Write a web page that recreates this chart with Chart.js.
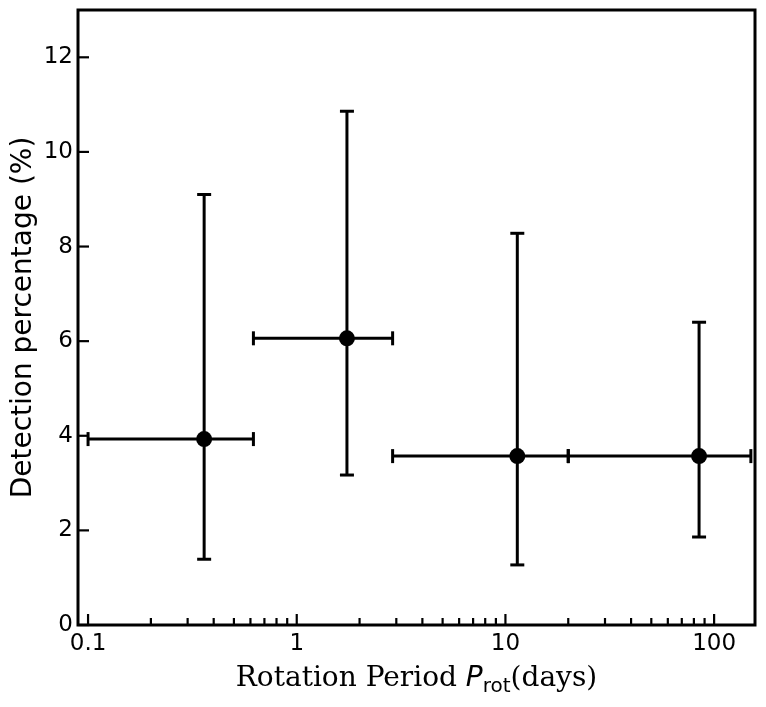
<!DOCTYPE html>
<html>
<head>
<meta charset="utf-8">
<script src="https://cdn.jsdelivr.net/npm/chart.js@4/dist/chart.umd.min.js"></script>
<style>
  html, body { margin: 0; padding: 0; background: #fff; }
  #wrap { width: 766px; height: 707px; }
</style>
</head>
<body>
<div id="wrap"><canvas id="detection_chart"></canvas></div>
<script>
// rotation period bins (days) and detection percentage
const periods    = [0.36, 1.74, 11.4, 84.7];
const binLow     = [0.1, 0.62, 2.88, 20];
const binHigh    = [0.62, 2.88, 20, 150];
const percent    = [3.93, 6.06, 3.57, 3.57];
const percentLow = [1.39, 3.17, 1.27, 1.86];
const percentHigh= [9.10, 10.86, 8.28, 6.40];

const xMajorTicks = [0.1, 1, 10, 100];
const xMinorSteps = [2, 3, 4, 5, 6, 7, 8, 9];
const yTicks = [0, 2, 4, 6, 8, 10, 12];

const xMin = 0.0895, xMax = 157;
const yMin = 0, yMax = 13;

Chart.defaults.font.family = "'DejaVu Sans', sans-serif";
Chart.defaults.font.size = 22;
Chart.defaults.color = '#000';

const LW = 3;

/* error bars as small line datasets, caps via the 'line' point style */
let datasets = [];
for (let i = 0; i < periods.length; i++) {
    datasets.push({
        data: [{x: periods[i], y: percentLow[i]}, {x: periods[i], y: percentHigh[i]}],
        showLine: true,
        borderColor: '#000',
        borderWidth: LW,
        pointStyle: 'line',
        pointRadius: 7,
        pointBorderWidth: LW,
        pointBorderColor: '#000',
        pointRotation: 0
    });
    datasets.push({
        data: [{x: binLow[i], y: percent[i]}, {x: binHigh[i], y: percent[i]}],
        showLine: true,
        borderColor: '#000',
        borderWidth: LW,
        pointStyle: 'line',
        pointRadius: 7,
        pointBorderWidth: LW,
        pointBorderColor: '#000',
        pointRotation: 90
    });
}
datasets.push({
    data: periods.map((p, i) => ({x: p, y: percent[i]})),
    showLine: false,
    pointStyle: 'circle',
    pointRadius: 8,
    pointBackgroundColor: '#000',
    pointBorderColor: '#000',
    pointBorderWidth: 0
});

function isMajorX(v)
{
    return xMajorTicks.some(t => Math.abs(t - v) < t * 1e-6);
}

/* frame, inward ticks and axis titles */
const framePlugin = {
    id: 'frame',
    afterDraw(chart) {
        const ctx = chart.ctx;
        const area = chart.chartArea;
        const xs = chart.scales.x;
        const ys = chart.scales.y;
        ctx.save();
        ctx.strokeStyle = '#000';

        ctx.lineWidth = 2.2;
        xs.ticks.forEach(t => {
            if (t.value < xMin || t.value > xMax) return;
            const px = xs.getPixelForValue(t.value);
            const len = isMajorX(t.value) ? 11 : 7;
            ctx.beginPath();
            ctx.moveTo(px, area.bottom);
            ctx.lineTo(px, area.bottom - len);
            ctx.stroke();
        });
        ys.ticks.forEach(t => {
            const py = ys.getPixelForValue(t.value);
            ctx.beginPath();
            ctx.moveTo(area.left, py);
            ctx.lineTo(area.left + 11, py);
            ctx.stroke();
        });

        ctx.lineWidth = 3;
        ctx.strokeRect(area.left, area.top, area.right - area.left, area.bottom - area.top);

        // y title
        ctx.fillStyle = '#000';
        ctx.save();
        ctx.translate(31, (area.top + area.bottom) / 2);
        ctx.rotate(-Math.PI / 2);
        ctx.font = "28px 'DejaVu Sans'";
        ctx.textAlign = 'center';
        ctx.textBaseline = 'alphabetic';
        ctx.fillText('Detection percentage (%)', 0, 0);
        ctx.restore();

        // x title: serif text with italic P and subscript "rot"
        const parts = [
            {text: 'Rotation Period ', font: "28px 'DejaVu Serif'", dy: 0},
            {text: 'P', font: "italic 28px 'DejaVu Sans'", dy: 0},
            {text: 'rot', font: "20px 'DejaVu Sans'", dy: 6},
            {text: '(days)', font: "28px 'DejaVu Serif'", dy: 0}
        ];
        let total = 0;
        parts.forEach(p => { ctx.font = p.font; p.w = ctx.measureText(p.text).width; total += p.w; });
        let cx = (area.left + area.right) / 2 - total / 2;
        const base = 686;
        ctx.textAlign = 'left';
        ctx.textBaseline = 'alphabetic';
        parts.forEach(p => {
            ctx.font = p.font;
            ctx.fillText(p.text, cx, base + p.dy);
            cx += p.w;
        });
        ctx.restore();
    }
};

new Chart(document.getElementById('detection_chart'), {
    type: 'scatter',
    data: { datasets: datasets },
    options: {
        responsive: true,
        maintainAspectRatio: false,
        animation: false,
        layout: { padding: { top: 10, right: 11, left: 0, bottom: 0 } },
        plugins: {
            legend: { display: false },
            tooltip: { enabled: false }
        },
        scales: {
            x: {
                type: 'logarithmic',
                min: xMin,
                max: xMax,
                grid: { display: false, drawTicks: false },
                border: { display: false },
                afterBuildTicks: (scale) => {
                    let ticks = [];
                    xMajorTicks.forEach(m => {
                        ticks.push({value: m});
                        xMinorSteps.forEach(s => {
                            const v = m * s;
                            if (v <= xMax) ticks.push({value: v});
                        });
                    });
                    scale.ticks = ticks;
                },
                ticks: {
                    autoSkip: false,
                    maxRotation: 0,
                    padding: 5,
                    font: { size: 23 },
                    callback: (v) => isMajorX(v) ? String(v) : ''
                },
                afterFit: (scale) => {
                    scale.height = 82;
                    scale.paddingLeft = 0;
                    scale.paddingRight = 0;
                }
            },
            y: {
                min: yMin,
                max: yMax,
                grid: { display: false, drawTicks: false },
                border: { display: false },
                afterBuildTicks: (scale) => {
                    scale.ticks = yTicks.map(v => ({value: v}));
                },
                ticks: {
                    padding: 5,
                    font: { size: 23 },
                    callback: (v) => String(v)
                },
                afterFit: (scale) => {
                    scale.width = 78;
                    scale.paddingTop = 0;
                    scale.paddingBottom = 0;
                }
            }
        }
    },
    plugins: [framePlugin]
});
</script>
</body>
</html>
